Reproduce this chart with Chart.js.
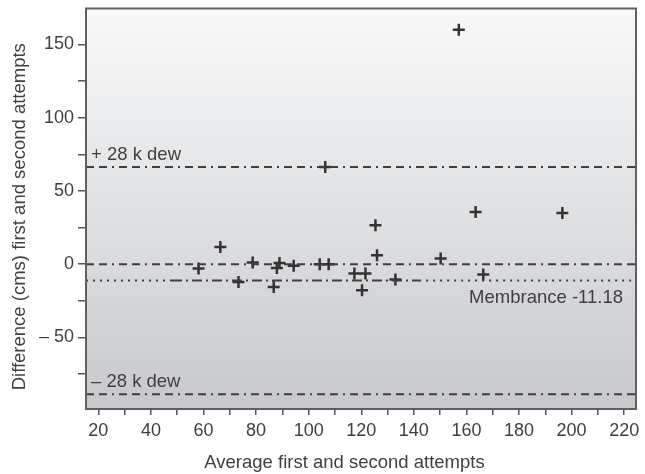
<!DOCTYPE html>
<html>
<head>
<meta charset="utf-8">
<script src="https://cdn.jsdelivr.net/npm/chart.js@4"></script>
<style>
    html, body { margin: 0; padding: 0; background: #fff; }
    #wrap { width: 645px; height: 474px; }
</style>
</head>
<body>
<div id="wrap"><canvas id="blandAltman"></canvas></div>
<script>
// averages of the two attempts (x) and their differences (y)
const averages = [58.1, 66.4, 73.3, 78.7, 86.7, 87.9, 88.9, 94.3, 104.2, 107.6, 106.3,
    117.4, 121.6, 120.3, 125.4, 126.0, 133.0, 150.2, 157.1, 163.5, 166.4, 196.5];
const differences = [-2.9, 11.8, -12.1, 1.2, -15.5, -2.5, 0.9, -1.1, 0, 0, 66.4,
    -6.4, -6.4, -17.7, 26.6, 6.1, -10.5, 3.9, 160.0, 35.7, -7.0, 35.0];

const meanDiff = -11.18;
const upperLimit = 66.4;
const lowerLimit = -88.8;
const meanSolidFrom = 48;
const meanSolidTo = 142;

const xRange = [15.3, 224.5];
const yRange = [-98.8, 174.5];
const xTicks = [20, 30, 40, 50, 60, 70, 80, 90, 100, 110, 120, 130, 140, 150, 160, 170, 180, 190, 200, 210, 220];
const yTicks = [-75, -50, -25, 0, 25, 50, 75, 100, 125, 150];

const xTitle = 'Average first and second attempts';
const yTitle = 'Difference (cms) first and second attempts';
const labelUpper = '+ 28 k dew';
const labelLower = '\u2013 28 k dew';
const labelMean = 'Membrance -11.18';

const ink = '#3f3f3f';
const fontName = '"Liberation Sans", Arial, sans-serif';

var points = averages.map((x, i) => ({ x: x, y: differences[i] }));

function flatLine(y) {
    return [{ x: xRange[0], y: y }, { x: xRange[1], y: y }];
}

var plotBackground = {
    id: 'plotBackground',
    beforeDraw: (chart) => {
        const a = chart.chartArea;
        const ctx = chart.ctx;
        const g = ctx.createLinearGradient(0, a.top, 0, a.bottom);
        g.addColorStop(0, '#f9f9f9');
        g.addColorStop(0.5, '#dfe1e3');
        g.addColorStop(1, '#c6c8cb');
        ctx.save();
        ctx.fillStyle = g;
        ctx.fillRect(a.left, a.top, a.right - a.left, a.bottom - a.top);
        ctx.restore();
    },
    afterDraw: (chart) => {
        const a = chart.chartArea;
        const ctx = chart.ctx;
        const ys = chart.scales.y;
        ctx.save();
        ctx.strokeStyle = '#606060';
        ctx.lineWidth = 2;
        ctx.strokeRect(a.left, a.top, a.right - a.left, a.bottom - a.top);

        ctx.fillStyle = ink;
        ctx.font = '18.5px ' + fontName;
        ctx.textBaseline = 'alphabetic';
        ctx.textAlign = 'left';
        ctx.fillText(labelUpper, a.left + 5, ys.getPixelForValue(upperLimit) - 7);
        ctx.fillText(labelLower, a.left + 5, ys.getPixelForValue(lowerLimit) - 7);
        ctx.textAlign = 'right';
        ctx.fillText(labelMean, a.right - 13, ys.getPixelForValue(meanDiff) + 22);

        // axis titles, placed a little off-centre like the original figure
        ctx.textAlign = 'center';
        ctx.textBaseline = 'middle';
        ctx.fillText(xTitle, a.left + (a.right - a.left) * 0.47, 463);
        ctx.translate(20, (a.top + a.bottom) / 2 + 8);
        ctx.rotate(-Math.PI / 2);
        ctx.fillText(yTitle, 0, 0);
        ctx.restore();
    }
};

var ctx = document.getElementById('blandAltman').getContext('2d');
var myChart = new Chart(ctx, {
    type: 'scatter',
    data: {
        datasets: [{
            type: 'line',
            data: flatLine(upperLimit),
            borderColor: ink,
            borderWidth: 2,
            borderDash: [8, 5, 8, 5, 2, 5],
            pointRadius: 0
        }, {
            type: 'line',
            data: flatLine(0),
            borderColor: ink,
            borderWidth: 2,
            borderDash: [8, 5, 8, 5, 2, 5],
            pointRadius: 0
        }, {
            type: 'line',
            data: flatLine(lowerLimit),
            borderColor: ink,
            borderWidth: 2,
            borderDash: [8, 5, 8, 5, 2, 5],
            pointRadius: 0
        }, {
            type: 'line',
            data: [{ x: xRange[0], y: meanDiff }, { x: meanSolidFrom, y: meanDiff },
                { x: meanSolidTo, y: meanDiff }, { x: xRange[1], y: meanDiff }],
            borderColor: ink,
            borderWidth: 2,
            borderDash: [2, 5],
            segment: {
                borderDash: (c) => c.p0DataIndex === 1 ? [10, 4, 2, 4] : [2, 5]
            },
            pointRadius: 0
        }, {
            data: points,
            pointStyle: 'cross',
            pointRadius: 6,
            pointBorderWidth: 2.5,
            borderColor: '#333',
            backgroundColor: '#333'
        }]
    },
    options: {
        responsive: true,
        maintainAspectRatio: false,
        animation: false,
        layout: { padding: { top: 8, right: 9, bottom: 0, left: 0 } },
        plugins: {
            legend: { display: false },
            tooltip: { enabled: false }
        },
        scales: {
            x: {
                type: 'linear',
                min: xRange[0],
                max: xRange[1],
                afterBuildTicks: (scale) => { scale.ticks = xTicks.map(v => ({ value: v })); },
                afterFit: (scale) => {
                    scale.height = 65;
                    scale.paddingLeft = 0;
                    scale.paddingRight = 0;
                },
                border: { display: false },
                grid: { drawOnChartArea: false, color: '#555', lineWidth: 1.5, tickLength: 6 },
                ticks: {
                    color: ink,
                    padding: 5,
                    maxRotation: 0,
                    autoSkip: false,
                    font: { family: fontName, size: 18 },
                    callback: (v) => v % 20 === 0 ? v : ''
                }
            },
            y: {
                type: 'linear',
                min: yRange[0],
                max: yRange[1],
                afterBuildTicks: (scale) => { scale.ticks = yTicks.map(v => ({ value: v })); },
                afterFit: (scale) => {
                    scale.width = 86;
                    scale.paddingTop = 0;
                    scale.paddingBottom = 0;
                },
                border: { display: false },
                grid: { drawOnChartArea: false, color: '#555', lineWidth: 1.5, tickLength: 8 },
                ticks: {
                    color: ink,
                    padding: 4,
                    autoSkip: false,
                    font: { family: fontName, size: 18 },
                    callback: (v) => v % 50 !== 0 ? '' : (v < 0 ? '\u2013 ' + Math.abs(v) : v)
                }
            }
        }
    },
    plugins: [plotBackground]
});
</script>
</body>
</html>
